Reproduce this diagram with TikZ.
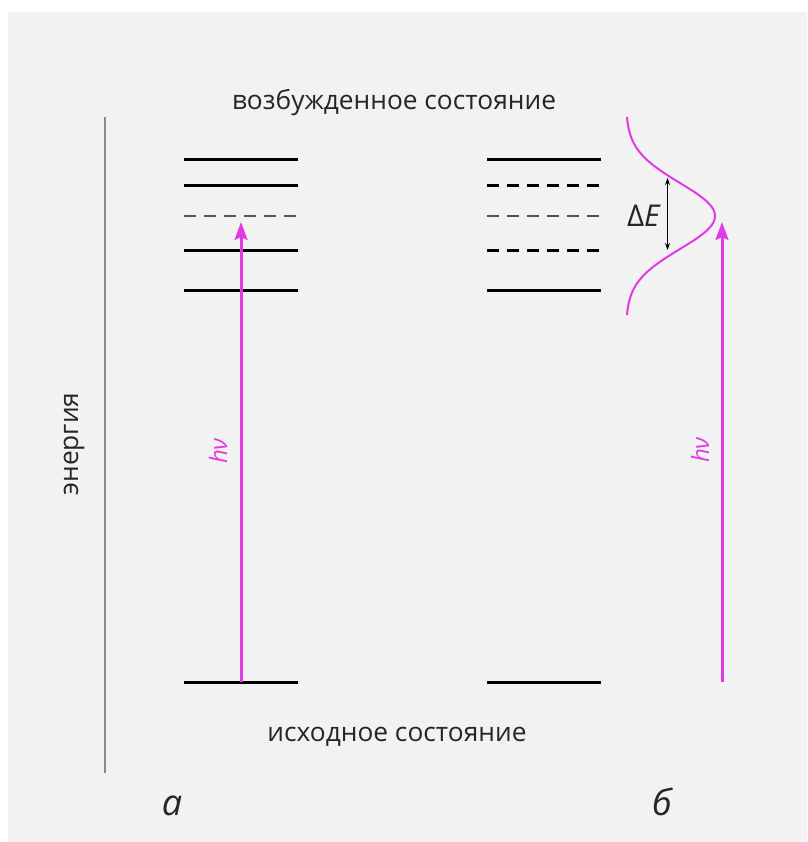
\documentclass[tikz,border=0pt]{standalone}
\usepackage{fontspec}
\setmainfont{Open Sans}
\usetikzlibrary{arrows.meta}
\definecolor{bg}{HTML}{F2F2F2}
\definecolor{mag}{HTML}{E23BE6}
\definecolor{txt}{HTML}{262626}
\definecolor{axisgray}{HTML}{8C8C8C}
\definecolor{thingray}{HTML}{555555}
\tikzset{
  level/.style={line width=3pt, black},
  dashlevel/.style={line width=3pt, black, dash pattern=on 12pt off 8pt},
  thinlevel/.style={line width=1.3pt, thingray, dash pattern=on 12pt off 8pt},
  photon/.style={line width=3pt, mag, -{Stealth[length=18pt,width=13pt,inset=3pt]}},
  caption/.style={text=txt, font=\fontsize{26.3}{30}\selectfont, inner sep=0pt},
  hvlabel/.style={text=mag, font=\fontsize{24}{28}\selectfont\itshape, inner sep=0pt, rotate=90},
  partlabel/.style={text=txt, font=\fontsize{36}{40}\selectfont\itshape, inner sep=0pt}
}
\begin{document}
\begin{tikzpicture}[x=1pt,y=-1pt]
\useasboundingbox (0,0) rectangle (807,842);
\fill[white] (0,0) rectangle (807,842);
\fill[bg] (8,12) rectangle (807,842);

% energy axis
\coordinate (axtop) at (105,117);
\coordinate (axbot) at (105,773);
\draw[axisgray, line width=1.5pt] (axtop) -- (axbot);
\node[caption, rotate=90] (energy) at (74,444) {энергия};

% captions
\node[caption] (excited) at (394,103) {возбужденное состояние};
\node[caption] (ground) at (397,737) {исходное состояние};

% left scheme: discrete levels
\draw[level] (184,160) -- (298,160);
\draw[level] (184,186) -- (298,186);
\draw[thinlevel] (184,216) -- (298,216);
\draw[level] (184,250) -- (298,250);
\draw[level] (184,290) -- (298,290);
\draw[level] (184,682) -- (298,682);
\coordinate (aBase) at (241,682);
\coordinate (aTip) at (241,222);
\draw[photon] (aBase) -- (aTip);
\node[hvlabel] (hvA) at (218,451) {hν};

% right scheme: broadened levels
\draw[level] (487,160) -- (601,160);
\draw[dashlevel] (487,186) -- (601,186);
\draw[thinlevel] (487,216) -- (601,216);
\draw[dashlevel] (487,250) -- (601,250);
\draw[level] (487,290) -- (601,290);
\draw[level] (487,682) -- (601,682);
\coordinate (bBase) at (722,682);
\coordinate (bTip) at (722,222);
\draw[photon] (bBase) -- (bTip);
\node[hvlabel] (hvB) at (700,450) {hν};

% line profile
\draw[mag, line width=2pt, smooth, samples=80, domain=-99:99, variable=\d]
  plot ({626+89*exp(-((\d/33)^2)/2)}, {216+\d});

% linewidth marker
\coordinate (dTop) at (667.5,178);
\coordinate (dBot) at (667.5,250);
\draw[black, line width=1pt, {Stealth[length=7pt,width=5pt]}-{Stealth[length=7pt,width=5pt]}] (dTop) -- (dBot);
\node[text=txt, font=\fontsize{30}{34}\selectfont, inner sep=0pt, anchor=east] (dE) at (661,216) {Δ\textit{E}};

% part labels
\node[partlabel] (labA) at (172,806) {а};
\node[partlabel] (labB) at (662,802) {б};
\end{tikzpicture}
\end{document}
